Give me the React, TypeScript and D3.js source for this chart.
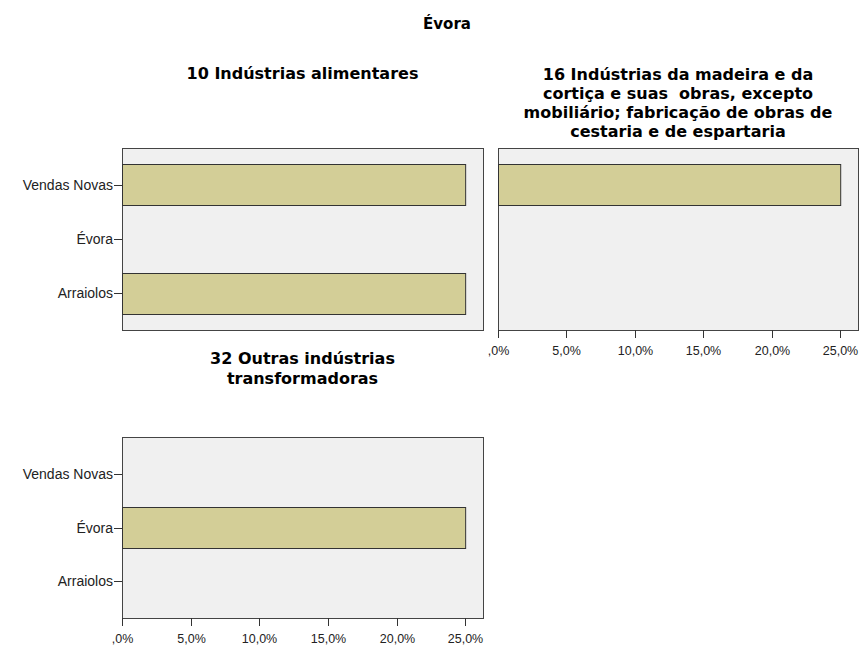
import React from "react";
import * as d3 from "d3";

const categories = ["Vendas Novas", "Évora", "Arraiolos"];
const alimentares = [25, 0, 25];
const madeira = [25, 0, 0];
const outras = [0, 25, 0];
const xTicks = [0, 5, 10, 15, 20, 25];
const mainTitle = "Évora";
const titleAlimentares = ["10 Indústrias alimentares"];
const titleMadeira = [
  "16 Indústrias da madeira e da",
  "cortiça e suas  obras, excepto",
  "mobiliário; fabricação de obras de",
  "cestaria e de espartaria",
];
const titleOutras = ["32 Outras indústrias", "transformadoras"];

const W = 864;
const H = 645;
const X_MAX = 26.3;

const fmt = (v: number) => (v === 0 ? ",0%" : v.toFixed(1).replace(".", ",") + "%");

type PanelProps = {
  left: number;
  top: number;
  width: number;
  height: number;
  values: number[];
  title: string[];
  titleBaseline: number;
  lineGap: number;
  showY: boolean;
  showX: boolean;
};

function Panel({ left, top, width, height, values, title, titleBaseline, lineGap, showY, showX }: PanelProps) {
  const x = d3.scaleLinear().domain([0, X_MAX]).range([left, left + width]);
  const y = d3
    .scaleBand<string>()
    .domain(categories)
    .range([top, top + height])
    .paddingInner(0.24)
    .paddingOuter(0.3);
  const cx = left + width / 2;
  return (
    <g>
      <text
        x={cx}
        y={titleBaseline}
        textAnchor="middle"
        fontFamily="'DejaVu Sans', sans-serif"
        fontWeight="bold"
        fontSize={16}
        fill="#000"
      >
        {title.map((t, i) => (
          <tspan key={i} x={cx} dy={i === 0 ? 0 : lineGap} style={{ whiteSpace: "pre" }}>
            {t}
          </tspan>
        ))}
      </text>
      <rect x={left + 0.5} y={top + 0.5} width={width} height={height} fill="#f0f0f0" stroke="#444" strokeWidth={1} />
      {categories.map((c, i) =>
        values[i] > 0 ? (
          <rect
            key={c}
            x={x(0) + 0.5}
            y={Math.round(y(c)!) + 0.5}
            width={x(values[i]) - x(0)}
            height={Math.round(y.bandwidth())}
            fill="#d3ce97"
            stroke="#333"
            strokeWidth={1}
          />
        ) : null
      )}
      {showY &&
        categories.map((c) => {
          const yy = Math.round(y(c)! + y.bandwidth() / 2) + 0.5;
          return (
            <g key={c}>
              <line x1={left - 8} x2={left} y1={yy} y2={yy} stroke="#333" />
              <text
                x={left - 9}
                y={yy}
                dy="0.35em"
                textAnchor="end"
                fontFamily="'Liberation Sans', Arial, sans-serif"
                fontSize={14}
                fill="#222"
              >
                {c}
              </text>
            </g>
          );
        })}
      {showX &&
        xTicks.map((t) => {
          const xx = Math.round(x(t)) + 0.5;
          return (
            <g key={t}>
              <line x1={xx} x2={xx} y1={top + height} y2={top + height + 8} stroke="#333" />
              <text
                x={xx}
                y={top + height + 25}
                textAnchor="middle"
                fontFamily="'Liberation Sans', Arial, sans-serif"
                fontSize={12.5}
                fill="#222"
              >
                {fmt(t)}
              </text>
            </g>
          );
        })}
    </g>
  );
}

export default function App() {
  return (
    <svg
      width={W}
      height={H}
      style={{ position: "absolute", left: 0, top: 0, background: "#fff" }}
    >
      <text
        x={447}
        y={29}
        textAnchor="middle"
        fontFamily="'DejaVu Sans', sans-serif"
        fontWeight="bold"
        fontSize={15}
        fill="#000"
      >
        {mainTitle}
      </text>
      <Panel left={122} top={148} width={361} height={182} values={alimentares} title={titleAlimentares} titleBaseline={79} lineGap={19} showY={true} showX={false} />
      <Panel left={498} top={148} width={360} height={182} values={madeira} title={titleMadeira} titleBaseline={80} lineGap={19} showY={false} showX={true} />
      <Panel left={122} top={437} width={361} height={181} values={outras} title={titleOutras} titleBaseline={364} lineGap={20} showY={true} showX={true} />
    </svg>
  );
}
